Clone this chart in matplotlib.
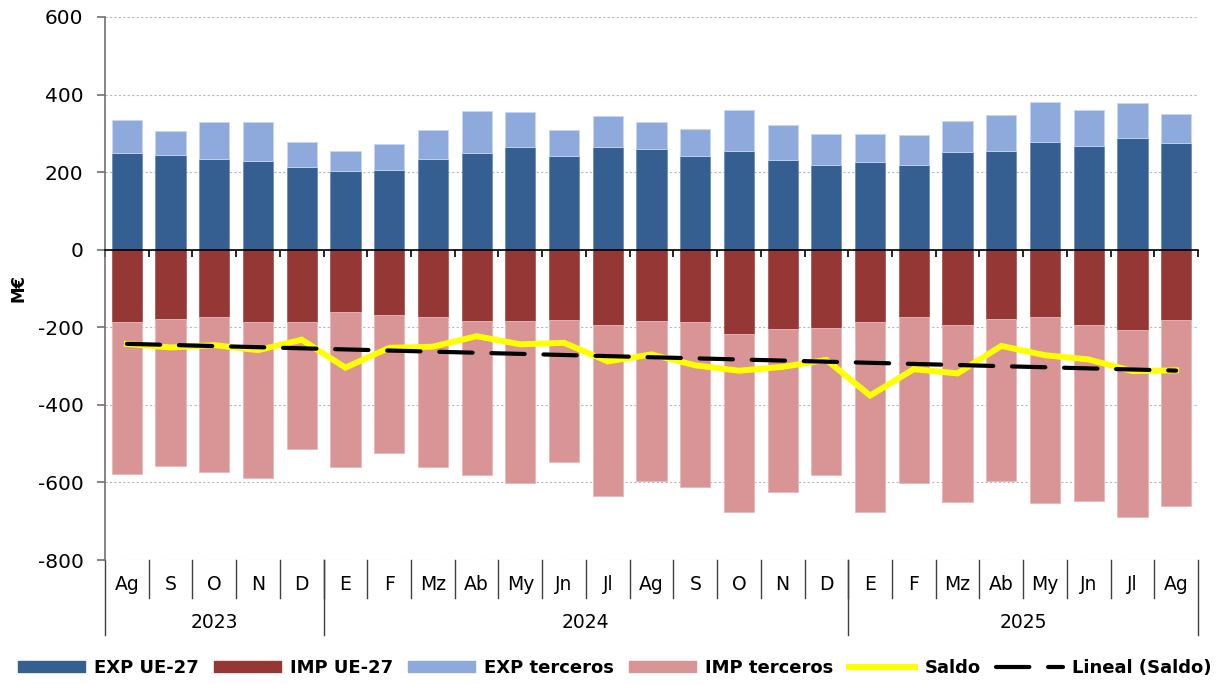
import matplotlib
matplotlib.use("Agg")
import matplotlib.pyplot as plt
import numpy as np
from matplotlib.patches import Patch
from matplotlib.lines import Line2D

plt.rcParams["axes.unicode_minus"] = False
plt.rcParams["font.family"] = ["DejaVu Sans"]

months = ["Ag", "S", "O", "N", "D",
          "E", "F", "Mz", "Ab", "My", "Jn", "Jl", "Ag", "S", "O", "N", "D",
          "E", "F", "Mz", "Ab", "My", "Jn", "Jl", "Ag"]
years = ["2023", "2024", "2025"]
year_counts = [5, 12, 8]

exp_ue = [249, 245, 235, 229, 212,
          203, 205, 235, 249, 265, 242, 265, 259, 242, 255, 232, 218,
          226, 218, 252, 255, 278, 268, 288, 275]
exp_terc = [85, 60, 93, 99, 66,
            52, 67, 73, 109, 90, 66, 80, 69, 69, 106, 89, 80,
            72, 77, 79, 93, 103, 93, 89, 76]
imp_ue = [-187, -178, -174, -187, -187,
          -161, -168, -174, -184, -184, -181, -194, -184, -187, -217, -204, -201,
          -187, -174, -194, -178, -174, -194, -207, -181]
imp_terc = [-390, -380, -400, -401, -327,
            -400, -356, -387, -397, -417, -366, -440, -413, -424, -460, -420, -380,
            -490, -427, -457, -419, -480, -453, -483, -479]
saldo = [-243, -252, -246, -259, -232,
         -304, -253, -250, -223, -244, -240, -288, -270, -298, -312, -302, -284,
         -376, -308, -319, -248, -272, -283, -313, -311]

c_exp_ue = "#355F91"
c_imp_ue = "#953735"
c_exp_t = "#8EAADC"
c_imp_t = "#D99595"

W, H = 1229, 684
fig = plt.figure(figsize=(W / 100, H / 100), dpi=100)
L, R, T, B = 105, 1198, 17, 560
ax = fig.add_axes([L / W, 1 - B / H, (R - L) / W, (B - T) / H])

n = len(months)
x = np.arange(n)
bw = 0.69
ax.bar(x, exp_ue, bw, color=c_exp_ue, edgecolor="#6f8fba", linewidth=0.6, zorder=2)
ax.bar(x, exp_terc, bw, bottom=exp_ue, color=c_exp_t, edgecolor="#c8d6ef", linewidth=0.6, zorder=2)
ax.bar(x, imp_ue, bw, color=c_imp_ue, edgecolor=c_imp_ue, linewidth=0.4, zorder=2)
ax.bar(x, imp_terc, bw, bottom=imp_ue, color=c_imp_t, edgecolor="#e8b8b8", linewidth=0.6, zorder=2)

ax.plot(x, saldo, color="#FFFF00", lw=4.3, solid_joinstyle="miter", zorder=3)
coef = np.polyfit(x, saldo, 1)
trend = np.polyval(coef, x)
ax.plot(x, trend, color="black", lw=3.0, dashes=(8.0, 4.5), dash_capstyle="round", zorder=4)

ax.set_xlim(-0.5, n - 0.5)
ax.set_ylim(-800, 600)
ax.set_yticks(np.arange(-800, 601, 200))
ax.yaxis.grid(True, linestyle=(0, (2, 2)), color="#b8b8b8", linewidth=0.8)
ax.set_axisbelow(True)
for s in ["top", "right"]:
    ax.spines[s].set_visible(False)
ax.spines["left"].set_color("#707070")
ax.spines["left"].set_linewidth(1.2)
ax.spines["bottom"].set_position(("data", 0))
ax.spines["bottom"].set_color("black")
ax.spines["bottom"].set_linewidth(1.2)
ax.spines["bottom"].set_zorder(5)
ax.set_xticks(np.arange(-0.5, n, 1.0))
ax.tick_params(axis="x", direction="out", length=5, width=1.2, labelbottom=False, color="black")
ax.tick_params(axis="y", direction="out", length=6, width=1.2, color="#707070", labelsize=14.5, pad=9.5)
ax.set_ylabel("M€", fontsize=12, fontweight="bold", labelpad=7)

# category table under the plot
tr = ax.get_xaxis_transform()
month_y = -(585 - B) / (B - T)
year_y = -(623 - B) / (B - T)
sep_m = -(598 - B) / (B - T)
sep_y = -(635 - B) / (B - T)
for i, m in enumerate(months):
    ax.text(i, month_y, m, transform=tr, ha="center", va="center", fontsize=13.5)
for i in range(1, n):
    ax.plot([i - 0.5, i - 0.5], [0, sep_m], transform=tr, color="#404040", lw=1.0, clip_on=False)
start = 0
bounds = [-0.5]
for yname, cnt in zip(years, year_counts):
    ax.text(start + (cnt - 1) / 2, year_y, yname, transform=tr, ha="center", va="center", fontsize=13.5)
    start += cnt
    bounds.append(start - 0.5)
for bnd in bounds:
    ax.plot([bnd, bnd], [0, sep_y], transform=tr, color="#404040", lw=1.0, clip_on=False)

handles = [
    Patch(facecolor=c_exp_ue, edgecolor=c_exp_ue),
    Patch(facecolor=c_imp_ue, edgecolor=c_imp_ue),
    Patch(facecolor=c_exp_t, edgecolor=c_exp_t),
    Patch(facecolor=c_imp_t, edgecolor=c_imp_t),
    Line2D([], [], color="#FFFF00", lw=4.3),
    Line2D([], [], color="black", lw=3.0, dashes=(8.0, 4.5), dash_capstyle="round"),
]
labels = ["EXP UE-27", "IMP UE-27", "EXP terceros", "IMP terceros", "Saldo", "Lineal (Saldo)"]
leg = fig.legend(handles, labels, loc="center", bbox_to_anchor=(0.5, 1 - 668 / H), ncol=6,
                 frameon=False, prop={"size": 13, "weight": "bold"}, handlelength=3.7,
                 handleheight=0.6, handletextpad=0.5, columnspacing=0.85)

fig.savefig("out.png", dpi=100)
